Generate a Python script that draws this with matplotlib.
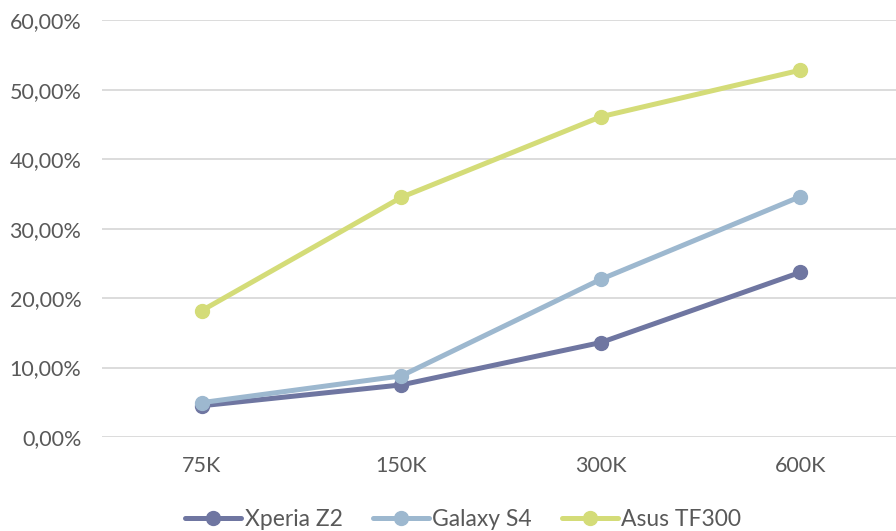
import matplotlib.pyplot as plt
from matplotlib.ticker import FuncFormatter

plt.rcParams['font.family'] = ['Lato', 'DejaVu Sans']

categories = ["75K", "150K", "300K", "600K"]
xperia_z2 = [4.5, 7.5, 13.6, 23.7]
galaxy_s4 = [4.95, 8.8, 22.7, 34.6]
asus_tf300 = [18.2, 34.5, 46.1, 52.8]

series = [
    ("Xperia Z2", xperia_z2, "#6F76A1"),
    ("Galaxy S4", galaxy_s4, "#9DB8CF"),
    ("Asus TF300", asus_tf300, "#D4DC78"),
]

text_color = "#595959"

fig = plt.figure(figsize=(8.96, 5.31), dpi=100)
ax = fig.add_axes([0.114, 0.177, 0.886, 0.785])

x = range(len(categories))
for name, vals, col in series:
    ax.plot(x, vals, color=col, lw=3.6, marker="o", ms=10,
            solid_capstyle="round", label=name, zorder=3)

ax.set_ylim(0, 60)
ax.set_yticks(range(0, 61, 10))
ax.yaxis.set_major_formatter(FuncFormatter(lambda v, p: f"{v:.2f}%".replace(".", ",")))
ax.set_xlim(-0.5, 3.48)
ax.set_xticks(list(x))
ax.set_xticklabels(categories)

ax.grid(axis="y", color="#D9D9D9", lw=1.3)
ax.set_axisbelow(True)
for s in ax.spines.values():
    s.set_visible(False)
ax.tick_params(length=0, labelsize=15.5, labelcolor=text_color)
ax.tick_params(axis="y", pad=15)
ax.tick_params(axis="x", pad=14)

leg = fig.legend(loc="lower center", bbox_to_anchor=(0.517, -0.037), ncol=3,
                 frameon=False, fontsize=16.5, handlelength=2.45,
                 columnspacing=1.3, handletextpad=0.15)
for t in leg.get_texts():
    t.set_color(text_color)

fig.savefig("out.png", dpi=100)
